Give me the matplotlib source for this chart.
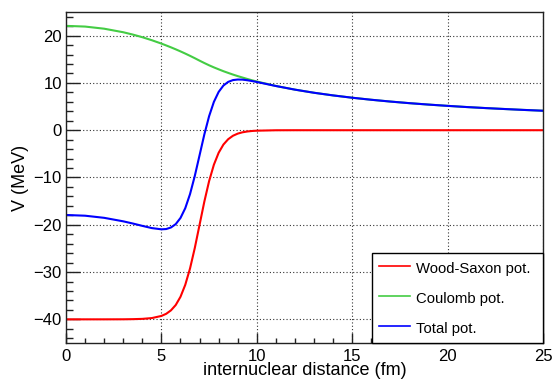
import numpy as np
import matplotlib
matplotlib.use("Agg")
import matplotlib.pyplot as plt
from matplotlib.ticker import MultipleLocator

plt.rcParams['font.family'] = ['Liberation Sans', 'DejaVu Sans']

# internuclear distance (fm)
r = [0, 1, 2, 3, 3.5, 4, 4.5, 5, 5.25, 5.5, 5.75, 6, 6.25, 6.5, 6.75, 7, 7.25,
     7.5, 7.75, 8, 8.25, 8.5, 8.75, 9, 9.25, 9.5, 9.75, 10, 11, 12, 13, 14,
     15, 16, 17, 18, 19, 20, 21, 22, 23, 24, 25]

# potentials (MeV)
v_ws = [-40.0, -40.0, -40.0, -39.99, -39.96, -39.90, -39.73, -39.28, -38.83,
        -38.10, -36.97, -35.23, -32.70, -29.24, -24.90, -20.0, -15.10, -10.76,
        -7.30, -4.77, -3.03, -1.90, -1.17, -0.72, -0.44, -0.27, -0.16, -0.10,
        -0.01, 0, 0, 0, 0, 0, 0, 0, 0, 0, 0, 0, 0, 0, 0]
v_coul = [22.07, 21.92, 21.47, 20.72, 20.23, 19.67, 19.03, 18.32, 17.93,
          17.53, 17.11, 16.67, 16.21, 15.73, 15.23, 14.71, 14.21, 13.73,
          13.29, 12.88, 12.48, 12.12, 11.77, 11.44, 11.14, 10.84, 10.56,
          10.30, 9.36, 8.58, 7.92, 7.36, 6.87, 6.44, 6.06, 5.72, 5.42, 5.15,
          4.90, 4.68, 4.48, 4.29, 4.12]
v_tot = [-17.93, -18.08, -18.53, -19.27, -19.73, -20.23, -20.70, -20.96,
         -20.90, -20.57, -19.86, -18.56, -16.49, -13.51, -9.67, -5.29, -0.89,
         2.97, 5.99, 8.10, 9.45, 10.22, 10.60, 10.72, 10.70, 10.57, 10.40,
         10.20, 9.35, 8.58, 7.92, 7.36, 6.87, 6.44, 6.06, 5.72, 5.42, 5.15,
         4.90, 4.68, 4.48, 4.29, 4.12]

fig = plt.figure(figsize=(5.57, 3.80), dpi=100)
ax = fig.add_axes([0.1185, 0.0974, 0.8564, 0.871])

ax.plot(r, v_ws, color='#ff0000', lw=1.5, label='Wood-Saxon pot.')
ax.plot(r, v_coul, color='#44cc44', lw=1.5, label='Coulomb pot.')
ax.plot(r, v_tot, color='#0000ff', lw=1.5, label='Total pot.')

ax.set_xlim(0, 25)
ax.set_ylim(-45, 25)
ax.xaxis.set_major_locator(MultipleLocator(5))
ax.xaxis.set_minor_locator(MultipleLocator(1))
ax.yaxis.set_major_locator(MultipleLocator(10))
ax.yaxis.set_minor_locator(MultipleLocator(2))

ax.tick_params(axis='both', which='both', direction='in', top=False, right=False,
               labelsize=12, color='#222222', width=1)
ax.tick_params(axis='x', which='major', length=7, pad=4)
ax.tick_params(axis='x', which='minor', length=3.6)
ax.tick_params(axis='y', which='major', length=10, pad=3)
ax.tick_params(axis='y', which='minor', length=5)
for sp in ax.spines.values():
    sp.set_color('#222222')
    sp.set_linewidth(1)

ax.grid(True, which='major', linestyle=(0, (1, 2)), color='#333333', lw=0.8)

ax.set_xlabel('internuclear distance (fm)', fontsize=13, labelpad=-1)
ax.set_ylabel('V (MeV)', fontsize=13, labelpad=3)

leg = ax.legend(loc='lower left', bbox_to_anchor=(0.6415, 0, 0.3585, 0.275),
                mode='expand', borderaxespad=0, fancybox=False, framealpha=1,
                edgecolor='black', fontsize=10.7, handlelength=2.1,
                handleheight=1.41, handletextpad=0.4, labelspacing=0.85,
                borderpad=0.45)
leg.get_frame().set_linewidth(1)
for h in leg.get_lines():
    h.set_linewidth(1.2)

fig.savefig('out.png', dpi=100)
